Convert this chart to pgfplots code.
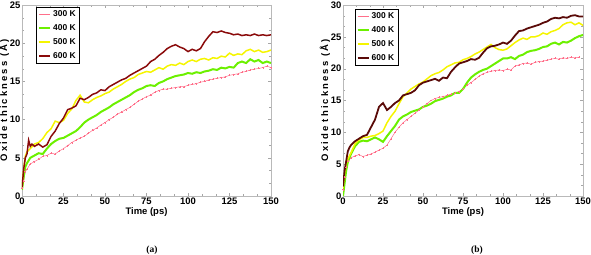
\documentclass[border=0pt]{standalone}
\usepackage{pgfplots}
\pgfplotsset{compat=1.18}
\usepackage{fontspec}
\setmainfont{Liberation Sans}
\newfontfamily\serifbf{Liberation Serif}
\definecolor{cpink}{HTML}{FF6F8A}
\definecolor{cgreen}{HTML}{6CF000}
\definecolor{cyellow}{HTML}{F5F500}
\definecolor{cred}{HTML}{8A0A0A}
\definecolor{cbrown}{HTML}{5A0A08}
\pgfplotsset{
  myax/.style={
    scale only axis, width=249bp, height=191bp,
    xmin=0, xmax=150, ymin=0,
    xtick={0,25,...,150}, minor x tick num=2, minor y tick num=2,
    axis line style={draw=gray!55},
    tick style={draw=gray!70},
    major tick length=3bp, minor tick length=1.8bp,
    tick align=inside,
    ticklabel style={font=\bfseries\fontsize{9.5}{10}\selectfont},
    /pgf/number format/assume math mode=true,
    xticklabel style={yshift=1.5bp},
    yticklabel style={xshift=2bp},
    xlabel={Time (ps)},
    ylabel={\addfontfeatures{LetterSpace=22}Oxide thickness (Å)},
    label style={font=\bfseries\fontsize{9.5}{10}\selectfont},
    xlabel style={yshift=4bp},
    ylabel style={yshift=-6bp},
    legend cell align=left,
    legend style={font=\bfseries\fontsize{8.5}{9}\selectfont, draw=black, line width=0.4pt, fill=white,
      inner sep=1.5pt, row sep=2.5pt, cells={anchor=west}},
    legend image code/.code={\draw[##1] (0bp,0bp) -- (11bp,0bp);},
  },
  p300/.style={color=cpink, line width=0.5pt, mark=+, mark size=1pt, mark options={line width=0.4pt}},
  p400/.style={color=cgreen, line width=2pt},
  p500/.style={color=cyellow, line width=1.5pt},
}
\begin{document}
\begin{tikzpicture}
\path[use as bounding box] (-22bp,-59bp) rectangle (569bp,196bp);
\begin{axis}[myax, at={(0,0)}, anchor=south west, ymax=25,
  legend style={at={(rel axis cs:0.058,0.99)}, anchor=north west}]
\addplot[p300] coordinates {(0,1.0)(1,2.0)(2,3.2)(3,3.5)(5,4.2)(7.5,4.5)(10,4.8)(12.5,5.2)(15,5.3)(17.5,5.6)(20,5.5)(22.5,5.9)(25,6.2)(27.5,6.6)(30,7.0)(32.5,7.3)(35,7.6)(37.5,7.8)(40,8.2)(42.5,8.6)(45,8.9)(47.5,9.3)(50,9.6)(52.5,10.0)(55,10.3)(57.5,10.7)(60,11.0)(62.5,11.3)(65,11.6)(67.5,12.0)(70,12.4)(72.5,12.7)(75,13.0)(77.5,13.2)(80,13.6)(82.5,13.8)(85,14.0)(87.5,14.0)(90,14.1)(92.5,14.2)(95,14.3)(97.5,14.3)(100,14.5)(102.5,14.6)(105,14.7)(107.5,14.9)(110,15.0)(112.5,15.2)(115,15.3)(117.5,15.4)(120,15.5)(122.5,15.6)(125,15.8)(127.5,15.9)(130,16.0)(132.5,16.2)(135,16.3)(137.5,16.5)(140,16.6)(142.5,16.7)(145,16.8)(147.5,17.0)(150,16.8)};
\addlegendentry{300 K}
\addplot[p400] coordinates {(0,0.8)(1,2.5)(2,3.8)(3,4.3)(5,5.0)(7.5,5.3)(10,5.6)(12.5,5.5)(15,6.2)(17.5,6.8)(20,7.2)(22.5,7.5)(25,7.6)(27.5,7.9)(30,8.2)(32.5,8.5)(35,9.0)(37.5,9.6)(40,10.0)(42.5,10.3)(45,10.6)(47.5,11.0)(50,11.3)(52.5,11.6)(55,12.0)(57.5,12.3)(60,12.6)(62.5,12.9)(65,13.2)(67.5,13.6)(70,13.9)(72.5,14.1)(75,14.4)(77.5,14.5)(80,14.4)(82.5,14.8)(85,15.0)(87.5,15.3)(90,15.5)(92.5,15.7)(95,15.8)(97.5,15.9)(100,16.1)(102.5,16.0)(105,16.2)(107.5,16.1)(110,16.3)(112.5,16.4)(115,16.6)(117.5,16.5)(120,16.8)(122.5,16.7)(125,16.9)(127.5,16.8)(130,17.4)(132.5,17.6)(135,17.4)(137.5,17.9)(140,17.6)(142.5,17.8)(145,17.4)(147.5,17.6)(150,17.4)};
\addlegendentry{400 K}
\addplot[p500] coordinates {(0,1.0)(1,3.5)(2,5.2)(3,5.8)(5,6.2)(7.5,6.8)(10,7.0)(12.5,7.5)(15,8.3)(17.5,8.8)(20,9.8)(22.5,9.6)(25,9.9)(27.5,10.8)(30,11.4)(32.5,12.5)(35,13.2)(37.5,12.3)(40,12.2)(42.5,12.6)(45,12.9)(47.5,13.1)(50,13.4)(52.5,13.6)(55,14.0)(57.5,14.3)(60,14.6)(62.5,15.0)(65,15.3)(67.5,15.5)(70,15.9)(72.5,16.1)(75,16.3)(77.5,16.2)(80,16.5)(82.5,16.8)(85,16.6)(87.5,17.0)(90,17.2)(92.5,17.1)(95,17.4)(97.5,17.2)(100,17.6)(102.5,17.8)(105,17.6)(107.5,17.9)(110,18.0)(112.5,17.8)(115,18.1)(117.5,18.0)(120,18.3)(122.5,18.2)(125,18.7)(127.5,18.4)(130,18.6)(132.5,18.5)(135,19.0)(137.5,19.2)(140,18.9)(142.5,19.1)(145,18.8)(147.5,18.9)(150,19.1)};
\addlegendentry{500 K}
\addplot[color=cred, line width=1.5pt] coordinates {(0,1.0)(1,3.5)(2,5.0)(3,5.5)(4,7.3)(5,6.5)(6,6.8)(7.5,6.5)(10,6.8)(12.5,6.4)(15,6.7)(17.5,7.8)(20,8.5)(22.5,9.5)(25,10.2)(27.5,11.3)(30,11.5)(32.5,11.8)(35,12.8)(37.5,12.6)(40,12.9)(42.5,13.3)(45,13.5)(47.5,13.9)(50,13.8)(52.5,14.3)(55,14.6)(57.5,14.9)(60,15.2)(62.5,15.4)(65,15.8)(67.5,16.1)(70,16.4)(72.5,16.7)(75,17.0)(77.5,17.6)(80,17.9)(82.5,18.4)(85,18.8)(87.5,19.3)(90,19.6)(92.5,19.8)(95,19.5)(97.5,19.3)(100,18.9)(102.5,19.2)(105,19.0)(107.5,19.3)(110,20.2)(112.5,20.9)(115,21.5)(117.5,21.4)(120,21.6)(122.5,21.4)(125,21.3)(127.5,21.1)(130,21.2)(132.5,21.0)(135,21.1)(137.5,21.0)(140,21.2)(142.5,21.0)(145,21.1)(147.5,21.0)(150,21.1)};
\addlegendentry{600 K}
\end{axis}
\node[font=\serifbf\bfseries\fontsize{9.5}{10}\selectfont] at (130bp,-54bp) {(a)};
\begin{axis}[myax, at={(321bp,0)}, anchor=south west, width=240bp, ymax=30,
  legend style={at={(rel axis cs:0.05,0.98)}, anchor=north west}]
\addplot[p300] coordinates {(0,1.0)(1,3.0)(2,4.5)(3,5.5)(5,6.0)(7.5,6.3)(10,6.5)(12.5,6.2)(15,6.4)(17.5,6.6)(20,6.9)(22.5,7.2)(25,7.5)(27.5,8.0)(30,9.0)(32.5,10.0)(35,10.8)(37.5,11.5)(40,12.0)(42.5,12.5)(45,13.0)(47.5,13.5)(50,14.0)(52.5,14.5)(55,15.0)(57.5,15.3)(60,15.5)(62.5,15.6)(65,15.8)(67.5,16.0)(70,16.2)(72.5,16.4)(75,16.8)(77.5,17.4)(80,17.8)(82.5,18.3)(85,18.8)(87.5,19.2)(90,19.4)(92.5,19.6)(95,19.7)(97.5,19.8)(100,19.7)(102.5,19.9)(105,19.8)(107.5,20.4)(110,20.6)(112.5,20.8)(115,20.9)(117.5,20.7)(120,21.0)(122.5,21.1)(125,21.2)(127.5,21.3)(130,21.5)(132.5,21.6)(135,21.5)(137.5,21.7)(140,21.6)(142.5,21.8)(145,21.7)(147.5,21.8)};
\addlegendentry{300 K}
\addplot[p400] coordinates {(0,0.0)(1,2.0)(2,4.0)(3,5.3)(5,6.6)(7.5,7.8)(10,8.5)(12.5,8.7)(15,8.6)(17.5,8.9)(20,9.2)(22.5,8.9)(25,8.5)(27.5,9.4)(30,10.2)(32.5,11.0)(35,12.0)(37.5,12.5)(40,12.8)(42.5,13.2)(45,13.4)(47.5,13.6)(50,14.0)(52.5,14.2)(55,14.5)(57.5,14.9)(60,15.1)(62.5,15.3)(65,15.6)(67.5,15.8)(70,16.2)(72.5,16.2)(75,16.8)(77.5,17.8)(80,18.6)(82.5,19.1)(85,19.5)(87.5,19.8)(90,20.0)(92.5,20.4)(95,20.8)(97.5,21.2)(100,21.6)(102.5,21.6)(105,21.8)(107.5,21.5)(110,22.0)(112.5,22.2)(115,22.6)(117.5,22.8)(120,22.9)(122.5,23.1)(125,23.4)(127.5,23.5)(130,23.9)(132.5,24.1)(135,23.8)(137.5,24.2)(140,24.1)(142.5,24.4)(145,24.8)(147.5,25.1)(150,25.3)};
\addlegendentry{400 K}
\addplot[p500] coordinates {(0,1.2)(1,3.5)(2,5.0)(3,5.8)(5,6.8)(7.5,8.2)(10,8.8)(12.5,9.2)(15,9.2)(17.5,9.4)(20,9.5)(22.5,9.8)(25,10.2)(27.5,11.5)(30,12.5)(32.5,13.3)(35,14.5)(37.5,15.6)(40,16.2)(42.5,16.8)(45,17.2)(47.5,17.6)(50,17.9)(52.5,18.4)(55,18.9)(57.5,19.2)(60,19.4)(62.5,19.8)(65,20.3)(67.5,20.6)(70,20.9)(72.5,21.0)(75,21.4)(77.5,21.6)(80,21.9)(82.5,22.3)(85,22.6)(87.5,23.0)(90,23.4)(92.5,23.8)(95,23.3)(97.5,23.0)(100,22.9)(102.5,23.1)(105,23.6)(107.5,24.1)(110,24.5)(112.5,24.8)(115,24.6)(117.5,25.0)(120,25.0)(122.5,25.2)(125,25.6)(127.5,25.4)(130,25.8)(132.5,26.0)(135,26.3)(137.5,26.9)(140,27.2)(142.5,27.3)(145,26.9)(147.5,27.2)(150,26.8)};
\addlegendentry{500 K}
\addplot[color=cbrown, line width=1.8pt] coordinates {(0,1.5)(1,4.0)(2,5.5)(3,7.0)(4,7.6)(5,8.0)(7.5,8.6)(10,9.0)(12.5,9.4)(15,9.6)(17.5,10.8)(20,12.0)(22.5,14.0)(25,14.6)(27.5,13.5)(30,14.0)(32.5,14.6)(35,15.0)(37.5,15.8)(40,16.0)(42.5,16.2)(45,16.6)(47.5,17.4)(50,17.8)(52.5,18.0)(55,18.2)(57.5,18.4)(60,18.1)(62.5,18.6)(65,18.5)(67.5,19.5)(70,20.2)(72.5,20.8)(75,21.0)(77.5,21.2)(80,21.5)(82.5,21.4)(85,21.7)(87.5,22.5)(90,23.2)(92.5,23.5)(95,23.6)(97.5,23.8)(100,24.1)(102.5,23.9)(105,24.4)(107.5,25.2)(110,25.9)(112.5,26.0)(115,26.3)(117.5,26.5)(120,26.7)(122.5,26.9)(125,27.2)(127.5,27.4)(130,27.8)(132.5,28.0)(135,27.9)(137.5,28.1)(140,28.0)(142.5,28.3)(145,28.4)(147.5,28.2)(150,28.2)};
\addlegendentry{600 K}
\end{axis}
\node[font=\serifbf\bfseries\fontsize{9.5}{10}\selectfont] at (455bp,-54bp) {(b)};
\end{tikzpicture}
\end{document}
